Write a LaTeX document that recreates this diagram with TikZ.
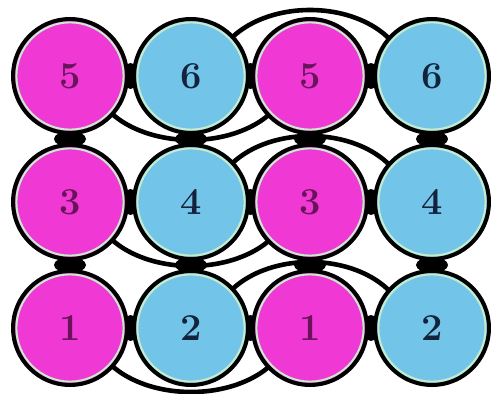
\documentclass[tikz,border=0pt]{standalone}
\usetikzlibrary{calc,backgrounds}
\definecolor{cpink}{RGB}{240,56,212}
\definecolor{cblue}{RGB}{114,196,232}
\definecolor{cpinktxt}{RGB}{105,20,90}
\definecolor{cbluetxt}{RGB}{20,35,60}
\definecolor{crim}{RGB}{200,235,205}
\tikzset{
  packing/.style={x=0.5pt,y=-0.5pt},
  ball/.style={circle,draw=black,line width=2pt,inner sep=0pt,minimum size=57pt,
    font=\bfseries\fontsize{19}{19}\selectfont,
    path picture={\draw[crim,line width=1pt] (path picture bounding box.center) circle[radius=26.8pt];}},
  pinkball/.style={ball,fill=cpink,text=cpinktxt},
  blueball/.style={ball,fill=cblue,text=cbluetxt},
  ring/.style={line width=2.3pt},
  neck/.style={fill=black}
}

\begin{document}
\begin{tikzpicture}[packing]
  \useasboundingbox (0,0) rectangle (491,394);
  % the balls, three rows
  \foreach \y/\r/\p/\q in {76/1/5/6,202/2/3/4,328/3/1/2} {
    \node[pinkball] (a\r) at (70,\y) {\p};
    \node[blueball] (b\r) at (191,\y) {\q};
    \node[pinkball] (c\r) at (310,\y) {\p};
    \node[blueball] (d\r) at (432,\y) {\q};
  }
  \begin{pgfonlayer}{background}
    % rings behind the balls
    \foreach \r in {1,2,3} {
      \draw[ring] (b\r.center) ++(-98,0) arc[start angle=180,end angle=0,x radius=98,y radius=64];
      \draw[ring] (c\r.center) ++(-96,0) arc[start angle=180,end angle=360,x radius=96,y radius=66];
      \fill[neck] ($(a\r)!0.5!(b\r)$) ellipse[x radius=7,y radius=13];
      \fill[neck] ($(b\r)!0.5!(c\r)$) ellipse[x radius=7,y radius=13];
      \fill[neck] ($(c\r)!0.5!(d\r)$) ellipse[x radius=7,y radius=13];
    }
    \foreach \r/\s in {1/2,2/3} {
      \fill[neck] ($(a\r)!0.5!(a\s)$) ellipse[x radius=16,y radius=8];
      \fill[neck] ($(b\r)!0.5!(b\s)$) ellipse[x radius=16,y radius=8];
      \fill[neck] ($(c\r)!0.5!(c\s)$) ellipse[x radius=16,y radius=8];
      \fill[neck] ($(d\r)!0.5!(d\s)$) ellipse[x radius=16,y radius=8];
    }
  \end{pgfonlayer}
\end{tikzpicture}
\end{document}
